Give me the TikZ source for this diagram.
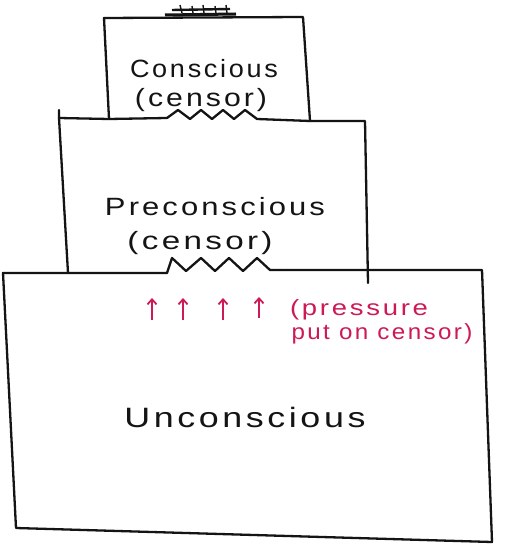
\documentclass[tikz,border=0pt]{standalone}
\usepackage{fontspec}
\usepackage{graphicx}
\newfontfamily\hand[LetterSpace=10]{Liberation Sans}
\usetikzlibrary{arrows.meta}
\definecolor{penred}{RGB}{205,25,85}
\definecolor{ink}{RGB}{20,20,20}
\newcommand\fitw[2]{\resizebox{#1pt}{\height}{#2}}
\tikzset{
  wire/.style={draw=ink, line width=2.3pt, line join=round, line cap=round},
  label/.style={font=\hand\fontsize{25}{28}\selectfont, text=ink, inner sep=0pt},
  biglabel/.style={font=\hand\fontsize{28}{32}\selectfont, text=ink, inner sep=0pt},
  redlabel/.style={font=\hand\fontsize{22}{25}\selectfont, text=penred, inner sep=0pt},
  push/.style={draw=penred, line width=1.8pt, -{Straight Barb[length=5pt,width=9pt]}},
  scribble/.style={draw=ink, line width=3pt}
}
\begin{document}
\begin{tikzpicture}[x=1pt,y=-1pt]
\useasboundingbox (0,0) rectangle (509,545);
\fill[white] (0,0) rectangle (509,545);

% scribble on top of conscious box
\draw[scribble] (165,15) -- (236,14);
\draw[scribble,line width=2.4pt] (172,10) -- (230,9);
\draw[ink,line width=1.4pt] (180,5) -- (182,13) (192,6) -- (193,13) (203,5) -- (204,13) (215,6) -- (216,13) (226,5) -- (227,13);

% conscious box
\draw[wire] (167,118) -- (109,119) -- (104,18) -- (303,17) -- (310,121);
\draw[wire] (167,118) -- (178,110) -- (190,119) -- (201,110) -- (212,119) -- (223,110) -- (234,119) -- (245,110) -- (257,119) -- (310,121);

% preconscious box
\draw[wire] (59,110) -- (59,118) -- (109,119);
\draw[wire] (310,121) -- (365,121) -- (368,283);
\draw[wire] (59,118) -- (68,273);
\draw[wire] (167,273) -- (172,258) -- (186,271) -- (201,258) -- (215,271) -- (229,258) -- (243,271) -- (257,258) -- (270,270) -- (280,270);

% unconscious box
\draw[wire] (167,273) -- (3,273) -- (16,528) -- (492,542) -- (482,270) -- (280,270);

% texts
\node[label] (cons) at (204,69) {\fitw{148}{Conscious}};
\node[label] (cens1) at (201,100) {\fitw{132}{(censor)}};
\node[label] (pre) at (215,207) {\fitw{220}{Preconscious}};
\node[label] (cens2) at (200,243) {\fitw{145}{(censor)}};
\node[biglabel] (unc) at (245,417) {\fitw{241}{Unconscious}};
\node[redlabel] (press1) at (359,310) {\fitw{138}{(pressure}};
\node[redlabel] (press2) at (382,334) {\fitw{181}{put on censor)}};

\coordinate (a1) at (152,320); \coordinate (b1) at (152,298);
\coordinate (a2) at (183,320); \coordinate (b2) at (183,298);
\coordinate (a3) at (223,320); \coordinate (b3) at (223,298);
\coordinate (a4) at (259,318); \coordinate (b4) at (259,297);
\foreach \i in {1,2,3,4} \draw[push] (a\i) -- (b\i);
\end{tikzpicture}
\end{document}
